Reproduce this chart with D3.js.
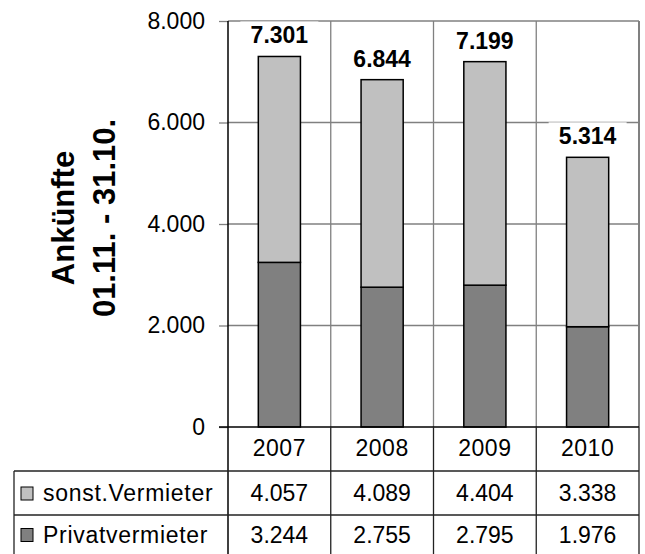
<!DOCTYPE html>
<html>
<head>
<meta charset="utf-8">
<script src="https://cdn.jsdelivr.net/npm/d3@7"></script>
<style>
  body { margin: 0; background: #fff; }
  text { font-family: "Liberation Sans", Arial, sans-serif; fill: #000; }
</style>
</head>
<body>
<div id="chart"></div>
<script>
var years = ["2007", "2008", "2009", "2010"];
var sonst = [4057, 4089, 4404, 3338];
var privat = [3244, 2755, 2795, 1976];
var yTicks = [0, 2000, 4000, 6000, 8000];
var seriesNames = ["sonst.Vermieter", "Privatvermieter"];

var svgWidth = 645;
var svgHeight = 554;

var plot = { left: 228, right: 639, top: 21, bottom: 427 };
var tableLeft = 14;
var rowLines = [427, 471, 515, 560];

var locale = d3.formatLocale({ decimal: ",", thousands: ".", grouping: [3], currency: ["", "€"] });
var fmt = locale.format(",");

var svg = d3.select("#chart")
  .append("svg")
  .attr("width", svgWidth)
  .attr("height", svgHeight);

var y = d3.scaleLinear()
  .domain([0, 8000])
  .range([plot.bottom, plot.top]);

var col = d3.scaleBand()
  .domain(years)
  .range([plot.left, plot.right]);

var x = d3.scaleBand()
  .domain(years)
  .range([plot.left, plot.right])
  .paddingInner(0.59)
  .paddingOuter(0.295);

var data = years.map((yr, i) => ({
  year: yr,
  privat: privat[i],
  sonst: sonst[i],
  total: privat[i] + sonst[i]
}));

// gridlines
svg.append("g")
  .selectAll("line")
  .data(yTicks.filter(d => d > 0))
  .enter()
  .append("line")
  .attr("x1", plot.left)
  .attr("x2", plot.right)
  .attr("y1", d => y(d))
  .attr("y2", d => y(d))
  .attr("stroke", "#808080")
  .attr("stroke-width", 1.3);

// vertical category dividers
svg.append("g")
  .selectAll("line")
  .data(years.slice(1))
  .enter()
  .append("line")
  .attr("x1", d => col(d))
  .attr("x2", d => col(d))
  .attr("y1", plot.top)
  .attr("y2", plot.bottom)
  .attr("stroke", "#808080")
  .attr("stroke-width", 1.3);

// right border
svg.append("line")
  .attr("x1", plot.right).attr("x2", plot.right)
  .attr("y1", plot.top).attr("y2", plot.bottom)
  .attr("stroke", "#808080")
  .attr("stroke-width", 2);

// bars
var bars = svg.append("g");
bars.selectAll(".priv")
  .data(data)
  .enter()
  .append("rect")
  .attr("x", d => x(d.year))
  .attr("width", x.bandwidth())
  .attr("y", d => y(d.privat))
  .attr("height", d => y(0) - y(d.privat))
  .attr("fill", "#808080")
  .attr("stroke", "#000")
  .attr("stroke-width", 1.5);

bars.selectAll(".sonst")
  .data(data)
  .enter()
  .append("rect")
  .attr("x", d => x(d.year))
  .attr("width", x.bandwidth())
  .attr("y", d => y(d.total))
  .attr("height", d => y(d.privat) - y(d.total))
  .attr("fill", "#C0C0C0")
  .attr("stroke", "#000")
  .attr("stroke-width", 1.5);

// total labels
var totals = svg.append("g").selectAll("g")
  .data(data)
  .enter()
  .append("g")
  .attr("transform", d => `translate(${col(d.year) + col.bandwidth() / 2}, ${y(d.total) - 13})`);

totals.append("rect")
  .attr("x", -39)
  .attr("y", -22)
  .attr("width", 78)
  .attr("height", 28)
  .attr("fill", "#fff");

totals.append("text")
  .attr("text-anchor", "middle")
  .attr("font-size", "23px")
  .attr("font-weight", "bold")
  .text(d => fmt(d.total));

// y axis
var yAxis = svg.append("g")
  .attr("transform", `translate(${plot.left}, 0)`)
  .call(d3.axisLeft(y).tickValues(yTicks).tickSize(9).tickPadding(14).tickFormat(fmt));

yAxis.select(".domain").remove();
yAxis.selectAll(".tick line").attr("stroke", "#808080").attr("stroke-width", 1.3);
yAxis.selectAll(".tick text")
  .attr("font-size", "23px")
  .attr("font-family", "'Liberation Sans', Arial, sans-serif");

// left axis line, running down through the table
svg.append("line")
  .attr("x1", plot.left).attr("x2", plot.left)
  .attr("y1", plot.top).attr("y2", svgHeight)
  .attr("stroke", "#000")
  .attr("stroke-width", 1.5);

// category axis line (0)
svg.append("line")
  .attr("x1", plot.left - 9).attr("x2", plot.right)
  .attr("y1", y(0)).attr("y2", y(0))
  .attr("stroke", "#000")
  .attr("stroke-width", 1.5);

// y axis title
svg.append("text")
  .attr("transform", "translate(74, 218) rotate(-90)")
  .attr("text-anchor", "middle")
  .attr("font-size", "31px")
  .attr("font-weight", "bold")
  .text("Ankünfte");

svg.append("text")
  .attr("transform", "translate(115, 218) rotate(-90)")
  .attr("text-anchor", "middle")
  .attr("font-size", "31px")
  .attr("font-weight", "bold")
  .text("01.11. - 31.10.");

// data table
var table = svg.append("g");

table.selectAll(".hrow")
  .data(rowLines.slice(1))
  .enter()
  .append("line")
  .attr("x1", tableLeft)
  .attr("x2", plot.right)
  .attr("y1", d => d)
  .attr("y2", d => d)
  .attr("stroke", "#222")
  .attr("stroke-width", 1.3);

table.selectAll(".vcol")
  .data(years.slice(1).map(d => col(d)).concat([plot.right]))
  .enter()
  .append("line")
  .attr("x1", d => d)
  .attr("x2", d => d)
  .attr("y1", rowLines[0])
  .attr("y2", svgHeight)
  .attr("stroke", "#222")
  .attr("stroke-width", 1.3);

table.append("line")
  .attr("x1", tableLeft).attr("x2", tableLeft)
  .attr("y1", rowLines[1]).attr("y2", svgHeight)
  .attr("stroke", "#222")
  .attr("stroke-width", 1.3);

// year labels
table.selectAll(".yr")
  .data(years)
  .enter()
  .append("text")
  .attr("x", d => col(d) + col.bandwidth() / 2)
  .attr("y", (rowLines[0] + rowLines[1]) / 2 + 7)
  .attr("text-anchor", "middle")
  .attr("font-size", "23px")
  .attr("letter-spacing", "0.5px")
  .text(d => d);

var rows = [sonst, privat];
var swatch = ["#C0C0C0", "#808080"];
var rowMid = [(rowLines[1] + rowLines[2]) / 2, (rowLines[2] + 554) / 2];

rows.forEach((vals, r) => {
  table.append("rect")
    .attr("x", 21)
    .attr("y", rowMid[r] - 6)
    .attr("width", 12)
    .attr("height", 13)
    .attr("fill", swatch[r])
    .attr("stroke", "#000")
    .attr("stroke-width", 1);

  table.append("text")
    .attr("x", 43)
    .attr("y", rowMid[r] + 8)
    .attr("font-size", "23px")
    .attr("letter-spacing", "0.7px")
    .text(seriesNames[r]);

  table.selectAll(".v" + r)
    .data(vals)
    .enter()
    .append("text")
    .attr("x", (d, i) => col(years[i]) + col.bandwidth() / 2)
    .attr("y", rowMid[r] + 8)
    .attr("text-anchor", "middle")
    .attr("font-size", "23px")
    .text(d => fmt(d));
});
</script>
</body>
</html>
